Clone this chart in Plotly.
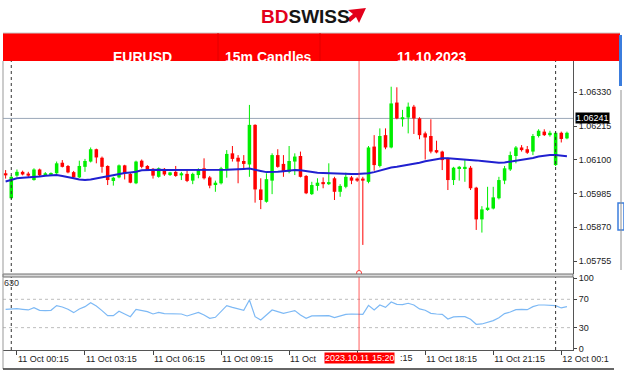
import plotly.graph_objects as go
import pandas as pd

# ---------------- data ----------------
times = pd.date_range("2023-10-10 23:45", periods=100, freq="15min")

open_ = [
    1.06054, 1.05969, 1.06046, 1.06059, 1.06053, 1.06031, 1.06067, 1.06048, 1.06049, 1.06054,
    1.06090, 1.06079, 1.06058, 1.06040, 1.06076, 1.06094, 1.06136, 1.06107, 1.06079, 1.06028,
    1.06040, 1.06081, 1.06052, 1.06020, 1.06097, 1.06079, 1.06069, 1.06042, 1.06069, 1.06048,
    1.06059, 1.06047, 1.06052, 1.06029, 1.06048, 1.06071, 1.06040, 1.06014, 1.06020, 1.06069,
    1.06122, 1.06107, 1.06096, 1.06084, 1.06219, 1.05999, 1.05957, 1.06029, 1.06116, 1.06086,
    1.06059, 1.06094, 1.06113, 1.06045, 1.05983, 1.06011, 1.06024, 1.06017, 1.06037, 1.05991,
    1.06008, 1.06040, 1.06036, 1.06036, 1.06025, 1.06145, 1.06079, 1.06184, 1.06142, 1.06295,
    1.06238, 1.06244, 1.06281, 1.06241, 1.06190, 1.06181, 1.06133, 1.06128, 1.06103, 1.06031,
    1.06070, 1.06072, 1.06073, 1.06005, 1.05897, 1.05931, 1.05934, 1.05969, 1.06029, 1.06067,
    1.06113, 1.06142, 1.06136, 1.06128, 1.06181, 1.06196, 1.06184, 1.06082, 1.06192, 1.06173,
]
close = [
    1.06047, 1.06042, 1.06059, 1.06050, 1.06046, 1.06067, 1.06047, 1.06054, 1.06054, 1.06088,
    1.06076, 1.06057, 1.06040, 1.06079, 1.06096, 1.06136, 1.06108, 1.06076, 1.06031, 1.06039,
    1.06081, 1.06054, 1.06022, 1.06094, 1.06076, 1.06065, 1.06046, 1.06071, 1.06050, 1.06057,
    1.06045, 1.06054, 1.06028, 1.06052, 1.06067, 1.06037, 1.06012, 1.06022, 1.06071, 1.06120,
    1.06103, 1.06094, 1.06086, 1.06219, 1.05999, 1.05963, 1.06034, 1.06116, 1.06076, 1.06059,
    1.06096, 1.06111, 1.06042, 1.05986, 1.06014, 1.06022, 1.06017, 1.06024, 1.05991, 1.06011,
    1.06042, 1.06029, 1.06029, 1.06029, 1.06142, 1.06082, 1.06181, 1.06142, 1.06292, 1.06241,
    1.06245, 1.06281, 1.06241, 1.06184, 1.06176, 1.06128, 1.06125, 1.06099, 1.06031, 1.06073,
    1.06076, 1.06076, 1.06003, 1.05897, 1.05931, 1.05937, 1.05972, 1.06031, 1.06071, 1.06116,
    1.06142, 1.06133, 1.06124, 1.06181, 1.06199, 1.06184, 1.06192, 1.06192, 1.06171, 1.06192,
]
high = [
    1.06065, 1.06048, 1.06067, 1.06063, 1.06059, 1.06071, 1.06070, 1.06058, 1.06057, 1.06094,
    1.06099, 1.06082, 1.06062, 1.06097, 1.06103, 1.06142, 1.06138, 1.06111, 1.06081, 1.06042,
    1.06084, 1.06083, 1.06056, 1.06097, 1.06101, 1.06082, 1.06072, 1.06074, 1.06072, 1.06059,
    1.06079, 1.06059, 1.06063, 1.06056, 1.06071, 1.06105, 1.06045, 1.06029, 1.06076, 1.06133,
    1.06147, 1.06116, 1.06116, 1.06287, 1.06221, 1.06037, 1.06054, 1.06122, 1.06136, 1.06116,
    1.06147, 1.06122, 1.06128, 1.06048, 1.06025, 1.06037, 1.06040, 1.06088, 1.06042, 1.06017,
    1.06056, 1.06045, 1.06040, 1.06042, 1.06147, 1.06184, 1.06207, 1.06207, 1.06349, 1.06347,
    1.06270, 1.06295, 1.06287, 1.06245, 1.06196, 1.06238, 1.06165, 1.06131, 1.06107, 1.06076,
    1.06079, 1.06099, 1.06079, 1.06008, 1.05942, 1.06008, 1.06008, 1.06042, 1.06079, 1.06128,
    1.06147, 1.06150, 1.06147, 1.06188, 1.06204, 1.06204, 1.06199, 1.06196, 1.06196, 1.06196,
]
low = [
    1.06036, 1.05965, 1.06042, 1.06047, 1.06040, 1.06029, 1.06042, 1.06045, 1.06046, 1.06052,
    1.06074, 1.06054, 1.06037, 1.06038, 1.06059, 1.06091, 1.06088, 1.06056, 1.06014, 1.06012,
    1.06037, 1.06033, 1.06020, 1.06017, 1.06071, 1.06062, 1.06036, 1.06039, 1.06045, 1.06045,
    1.06042, 1.06031, 1.06024, 1.06017, 1.06037, 1.06033, 1.06003, 1.05991, 1.06016, 1.06039,
    1.06094, 1.06020, 1.06071, 1.06042, 1.05954, 1.05932, 1.05954, 1.05983, 1.06073, 1.06042,
    1.06054, 1.06048, 1.06040, 1.05983, 1.05980, 1.05995, 1.06003, 1.06014, 1.05963, 1.05974,
    1.06003, 1.06017, 1.06025, 1.05810, 1.06020, 1.06063, 1.06074, 1.06136, 1.06139, 1.06238,
    1.06213, 1.06190, 1.06188, 1.06170, 1.06101, 1.06122, 1.06122, 1.06065, 1.05997, 1.06014,
    1.06029, 1.06025, 1.05997, 1.05861, 1.05852, 1.05926, 1.05931, 1.05965, 1.06017, 1.06062,
    1.06088, 1.06128, 1.06120, 1.06116, 1.06176, 1.06181, 1.06179, 1.06079, 1.06159, 1.06170,
]
ma = [
    1.06026, 1.06031, 1.06037, 1.06039, 1.06040, 1.06042, 1.06043, 1.06046, 1.06047, 1.06048,
    1.06045, 1.06040, 1.06037, 1.06033, 1.06031, 1.06033, 1.06037, 1.06040, 1.06043, 1.06047,
    1.06052, 1.06055, 1.06057, 1.06059, 1.06064, 1.06065, 1.06065, 1.06066, 1.06065, 1.06065,
    1.06065, 1.06064, 1.06064, 1.06064, 1.06065, 1.06065, 1.06064, 1.06064, 1.06065, 1.06066,
    1.06067, 1.06067, 1.06069, 1.06070, 1.06067, 1.06062, 1.06058, 1.06058, 1.06059, 1.06061,
    1.06063, 1.06065, 1.06064, 1.06061, 1.06057, 1.06056, 1.06055, 1.06054, 1.06054, 1.06053,
    1.06052, 1.06052, 1.06052, 1.06052, 1.06054, 1.06058, 1.06064, 1.06070, 1.06074, 1.06076,
    1.06079, 1.06082, 1.06086, 1.06090, 1.06095, 1.06099, 1.06103, 1.06105, 1.06105, 1.06104,
    1.06103, 1.06101, 1.06100, 1.06098, 1.06096, 1.06094, 1.06091, 1.06090, 1.06091, 1.06094,
    1.06097, 1.06099, 1.06101, 1.06106, 1.06111, 1.06114, 1.06116, 1.06116, 1.06114, 1.06112,
]
osc = [
    55.9, 56.8, 56.8, 55.9, 55.0, 58.2, 54.5, 54.0, 54.5, 61.1,
    59.2, 55.9, 51.2, 56.4, 59.6, 65.3, 60.6, 54.0, 46.9, 46.9,
    53.1, 49.3, 45.5, 55.9, 54.5, 52.6, 49.3, 51.6, 49.8, 49.8,
    49.3, 49.3, 46.5, 48.8, 51.6, 47.8, 43.2, 44.6, 52.6, 61.1,
    58.7, 56.4, 54.5, 69.1, 45.5, 40.8, 47.8, 55.0, 52.6, 50.2,
    52.1, 54.0, 47.8, 43.2, 46.5, 46.9, 46.5, 46.9, 44.1, 46.0,
    48.8, 49.3, 48.8, 48.8, 61.5, 55.0, 62.0, 58.7, 66.2, 62.9,
    62.5, 64.4, 62.0, 56.4, 54.5, 50.2, 49.3, 48.8, 42.2, 45.1,
    45.5, 45.5, 41.8, 34.7, 35.2, 37.5, 39.9, 44.1, 49.8, 52.1,
    55.4, 55.9, 55.4, 59.6, 62.0, 62.0, 61.5, 61.1, 57.8, 59.6,
]
current_price = 1.06241
price_ticks = [1.05755, 1.05870, 1.05985, 1.06100, 1.06215, 1.06330]
osc_ticks = [0, 30, 70, 100]
osc_levels = [30, 70]
# the 12:15 and 15:15 labels are partly hidden behind the cursor label in the reference
time_tickvals = ["2023-10-11 00:15", "2023-10-11 03:15", "2023-10-11 06:15", "2023-10-11 09:15",
                 "2023-10-11 12:15", "2023-10-11 15:15", "2023-10-11 18:15", "2023-10-11 21:15",
                 "2023-10-12 00:15"]
time_ticktext = ["11 Oct 00:15", "11 Oct 03:15", "11 Oct 06:15", "11 Oct 09:15",
                 "11 Oct", "", "11 Oct 18:15", "11 Oct 21:15", "12 Oct 00:1"]
hidden_tail_text = ":15"
day_separators = ["2023-10-11 00:00", "2023-10-12 00:00"]
cursor_time = "2023-10-11 15:20"
cursor_label = "2023.10.11 15:20"

# ---------------- styling ----------------
GREEN = "#00EE00"
RED = "#FF0000"
FONT = "Liberation Sans"

# plot area in pixels (for layout-only decorations)
PL, PR, PT, PB = 3, 573, 61, 350


def px(xp):
    return (xp - PL) / (PR - PL)


def py(yp):
    return (PB - yp) / (PB - PT)


fig = go.Figure()

# wicks
for up in (True, False):
    xs, ys = [], []
    for t, o, h, l, c in zip(times, open_, high, low, close):
        if (c >= o) == up:
            xs += [t, t, None]
            ys += [l, h, None]
    fig.add_trace(go.Scatter(x=xs, y=ys, mode="lines", line=dict(color=GREEN if up else RED, width=1),
                             hoverinfo="skip", xaxis="x", yaxis="y"))

# bodies
for up in (True, False):
    bx, bbase, bh = [], [], []
    for t, o, c in zip(times, open_, close):
        if (c >= o) == up:
            bx.append(t)
            bbase.append(min(o, c))
            bh.append(abs(c - o))
    fig.add_trace(go.Bar(x=bx, y=bh, base=bbase, width=560000,
                         marker=dict(color=GREEN if up else RED, line=dict(width=0)),
                         hoverinfo="skip", xaxis="x", yaxis="y"))

# moving average
fig.add_trace(go.Scatter(x=times, y=ma, mode="lines", line=dict(color="#2020D0", width=2),
                         hoverinfo="skip", xaxis="x", yaxis="y"))

# oscillator
fig.add_trace(go.Scatter(x=times, y=osc, mode="lines", line=dict(color="#7DB9F5", width=1.2),
                         hoverinfo="skip", xaxis="x", yaxis="y2"))

shapes = []
shapes.append(dict(type="line", xref="paper", yref="y", x0=0, x1=1, y0=current_price, y1=current_price,
                   line=dict(color="#9AA8B8", width=1), layer="below"))
for lv in osc_levels:
    shapes.append(dict(type="line", xref="paper", yref="y2", x0=0, x1=1, y0=lv, y1=lv,
                       line=dict(color="#BDBDBD", width=1, dash="dot"), layer="below"))
for d in day_separators:
    shapes.append(dict(type="line", xref="x", yref="paper", x0=d, x1=d, y0=0, y1=1,
                       line=dict(color="#333333", width=1, dash="dot")))
shapes.append(dict(type="line", xref="x", yref="paper", x0=cursor_time, x1=cursor_time, y0=0, y1=1,
                   line=dict(color="rgba(255,40,40,0.75)", width=1)))
shapes.append(dict(type="circle", xref="x", yref="paper", xsizemode="pixel", ysizemode="pixel",
                   xanchor=cursor_time, yanchor=py(273), x0=-2.5, x1=2.5, y0=-2.5, y1=2.5,
                   line=dict(color="rgba(255,40,40,0.9)", width=1), fillcolor="white"))
shapes.append(dict(type="rect", xref="paper", yref="paper", x0=0, x1=1, y0=py(277), y1=py(274),
                   fillcolor="#D8D8D8", line=dict(color="#707070", width=1)))
# header bar
shapes.append(dict(type="rect", xref="paper", yref="paper", x0=px(3), x1=px(620), y0=py(61), y1=py(33),
                   fillcolor="#FF0000", line=dict(width=0)))
shapes.append(dict(type="line", xref="paper", yref="paper", x0=px(3), x1=px(620), y0=py(33), y1=py(33),
                   line=dict(color="#C8C8C8", width=1)))
for xd in (218, 320):
    shapes.append(dict(type="line", xref="paper", yref="paper", x0=px(xd), x1=px(xd), y0=py(61), y1=py(33),
                       line=dict(color="#E00000", width=1)))
# right-edge artifacts
shapes.append(dict(type="rect", xref="paper", yref="paper", x0=px(619), x1=px(622), y0=py(86), y1=py(35),
                   fillcolor="#3B7DDD", line=dict(width=0)))
shapes.append(dict(type="rect", xref="paper", yref="paper", x0=px(618), x1=px(624), y0=py(230), y1=py(203),
                   fillcolor="rgba(0,0,0,0)", line=dict(color="#3B7DDD", width=1.5)))
shapes.append(dict(type="line", xref="paper", yref="paper", x0=px(621), x1=px(621), y0=py(270), y1=py(90),
                   line=dict(color="#909090", width=1)))
# outer frame
shapes.append(dict(type="line", xref="paper", yref="paper", x0=px(3), x1=px(3), y0=py(369), y1=py(61),
                   line=dict(color="#999999", width=1)))
shapes.append(dict(type="line", xref="paper", yref="paper", x0=px(3), x1=px(614), y0=py(369), y1=py(369),
                   line=dict(color="#333333", width=1.5)))
# logo arrow
pts = [(348, 10), (366, 8), (359, 23), (356, 17), (350, 22), (347, 19), (353, 14)]
path = "M " + " L ".join(f"{px(a):.4f},{py(b):.4f}" for a, b in pts) + " Z"
shapes.append(dict(type="path", xref="paper", yref="paper", path=path, fillcolor="#E3001B",
                   line=dict(width=0)))

annotations = [
    dict(text="<b><span style='color:#E3001B'>BD</span><span style='color:#151515'>SWISS</span></b>",
         xref="paper", yref="paper", x=px(259), y=py(16), xanchor="left", yanchor="middle",
         showarrow=False, font=dict(family=FONT, size=19)),
    dict(text="<b>EURUSD</b>", xref="paper", yref="paper", x=px(111), y=py(47), showarrow=False,
         font=dict(family=FONT, size=14, color="white")),
    dict(text="<b>15m Candles</b>", xref="paper", yref="paper", x=px(268), y=py(47), showarrow=False,
         font=dict(family=FONT, size=14, color="white")),
    dict(text="<b>11.10.2023</b>", xref="paper", yref="paper", x=px(469), y=py(47), showarrow=False,
         font=dict(family=FONT, size=14, color="white")),
    dict(text=f"{current_price:.5f}", xref="paper", yref="y", x=px(575), y=current_price,
         xanchor="left", yanchor="middle", showarrow=False, bgcolor="black", borderpad=0,
         font=dict(family=FONT, size=9, color="white")),
    dict(text=cursor_label, xref="x", yref="paper", x=cursor_time, y=py(358), xanchor="center",
         yanchor="middle", showarrow=False, bgcolor="#FF0000", borderpad=0,
         font=dict(family=FONT, size=9, color="white")),
    dict(text=hidden_tail_text, xref="paper", yref="paper", x=px(398), y=py(358), xanchor="left",
         yanchor="middle", showarrow=False, font=dict(family=FONT, size=9, color="#222222")),
    dict(text="630", xref="paper", yref="paper", x=px(2), y=py(283), xanchor="left", yanchor="middle",
         showarrow=False, font=dict(family=FONT, size=9, color="#333333")),
]

axis_font = dict(family=FONT, size=9, color="#222222")
fig.update_layout(
    width=624, height=371,
    margin=dict(l=PL, r=624 - PR, t=PT, b=371 - PB),
    paper_bgcolor="white", plot_bgcolor="white",
    showlegend=False, barmode="overlay",
    shapes=shapes, annotations=annotations,
    xaxis=dict(domain=[0, 1], anchor="y2", type="date",
               range=["2023-10-10 23:38:06", "2023-10-12 00:46:00"],
               tickvals=time_tickvals, ticktext=time_ticktext, tickfont=axis_font,
               ticks="outside", ticklen=4, tickcolor="#444444", ticklabelposition="outside right",
               showline=True, linecolor="#555555", showgrid=False, zeroline=False),
    yaxis=dict(domain=[py(274), 1], anchor="x", side="right", range=[1.057109, 1.064366],
               tickvals=price_ticks, ticktext=[f"{v:.5f}" for v in price_ticks], tickfont=axis_font,
               ticks="outside", ticklen=3, tickcolor="#444444", showline=True, linecolor="#555555",
               showgrid=False, zeroline=False),
    yaxis2=dict(domain=[0, py(277)], anchor="x", side="right", range=[-1.55, 101.5],
                tickvals=osc_ticks, ticktext=[str(v) for v in osc_ticks], tickfont=axis_font,
                ticks="outside", ticklen=3, tickcolor="#444444", showline=True, linecolor="#555555",
                showgrid=False, zeroline=False),
)

fig.write_html("out.html")
